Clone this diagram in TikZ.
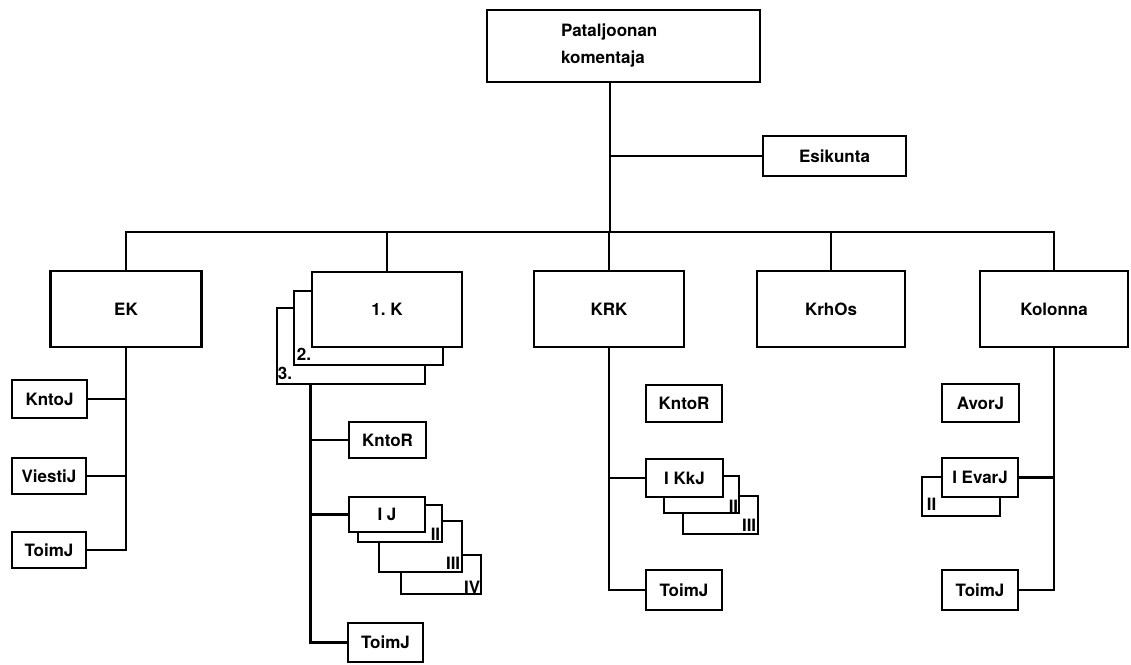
\documentclass[tikz,border=0pt]{standalone}
\usepackage{fontspec}
\setmainfont{TeX Gyre Heros}
\begin{document}
\begin{tikzpicture}[x=1pt,y=-1pt,
  box/.style={draw, line width=2.8pt, fill=white, inner sep=0pt,
    font=\bfseries\fontsize{17}{27}\selectfont, align=center},
  sbox/.style={box, minimum width=76pt, minimum height=37pt},
  conn/.style={line width=2.8pt},
  lab/.style={inner sep=0pt, font=\bfseries\fontsize{17}{20}\selectfont}]
\useasboundingbox (0,0) rectangle (1131,664);

% top level
\node[box, minimum width=273pt, minimum height=72pt, text width=125pt,
      align=left, inner xsep=74pt] (top) at (623.5,46) {Pataljoonan\\komentaja};
\node[box, minimum width=143pt, minimum height=40pt] (esik) at (834.5,156) {Esikunta};
\coordinate (trunk) at ([xshift=-13.5pt]top.south);
\coordinate (bus) at (610,232);

% second level
\node[box, minimum width=151pt, minimum height=76pt] (EK) at (126,309) {EK};
\node[box, minimum width=148pt, minimum height=76pt] (K3) at (351,346) {};
\node[lab, anchor=south west] (l3) at ([xshift=2pt,yshift=6pt]K3.south west) {3.};
\node[box, minimum width=149pt, minimum height=74pt] (K2) at (368.5,328) {};
\node[lab, anchor=south west] (l2) at ([xshift=4pt,yshift=6pt]K2.south west) {2.};
\node[box, minimum width=150pt, minimum height=75pt] (K1) at (387,309.5) {1.\ K};
\node[box, minimum width=150pt, minimum height=76pt] (KRK) at (609,309) {KRK};
\node[box, minimum width=148pt, minimum height=76pt] (KrhOs) at (831,309) {KrhOs};
\node[box, minimum width=148pt, minimum height=76pt] (Kol) at (1054,309) {Kolonna};

% EK column
\node[sbox, minimum width=75pt, minimum height=38pt] (KntoJ) at (49.5,399) {KntoJ};
\node[sbox, minimum width=74pt, minimum height=36pt] (ViestiJ) at (49,476) {ViestiJ};
\node[sbox, minimum width=74pt, minimum height=36pt] (ToimE) at (49,550) {ToimJ};

% 1. K column
\coordinate (ktrunk) at ([xshift=35pt]K3.south west);
\node[sbox, minimum width=77pt, minimum height=36pt] (KntoRK) at (387.5,440) {KntoR};
\node[box, minimum width=80pt, minimum height=39pt] (IJ4) at (441,574.5) {};
\node[lab, anchor=south east] (lIV) at ([xshift=-2pt,yshift=2pt]IJ4.south east) {IV};
\node[box, minimum width=83pt, minimum height=51pt] (IJ3) at (420.5,546.5) {};
\node[lab, anchor=south east] (lIII) at ([xshift=-3pt,yshift=4pt]IJ3.south east) {III};
\node[box, minimum width=84pt, minimum height=37pt] (IJ2) at (400,523.5) {};
\node[lab, anchor=south east] (lII) at ([xshift=-3pt,yshift=3pt]IJ2.south east) {II};
\node[sbox, minimum width=76pt, minimum height=35pt] (IJ) at (387,514.5) {I J};
\node[sbox, minimum width=75pt, minimum height=39pt] (ToimK) at (385.5,642.5) {ToimJ};

% KRK column
\node[sbox, minimum width=76pt, minimum height=37pt] (KntoRR) at (684,403.5) {KntoR};
\node[box, minimum width=75pt, minimum height=38pt] (KkJ3) at (720.5,515) {};
\node[lab, anchor=south east] (kIII) at ([xshift=-3pt,yshift=4pt]KkJ3.south east) {III};
\node[box, minimum width=75pt, minimum height=37pt] (KkJ2) at (701.5,494.5) {};
\node[lab, anchor=south east] (kII) at ([xshift=-2pt,yshift=2pt]KkJ2.south east) {II};
\node[sbox, minimum width=77pt, minimum height=38pt] (KkJ) at (684.5,478) {I KkJ};
\node[sbox, minimum width=76pt, minimum height=40pt] (ToimR) at (684,590) {ToimJ};

% Kolonna column
\node[sbox, minimum width=77pt, minimum height=38pt] (AvorJ) at (980.5,403) {AvorJ};
\node[box, minimum width=78pt, minimum height=39pt] (Evar2) at (961,496.5) {};
\node[lab, anchor=south west] (eII) at ([xshift=6pt,yshift=7pt]Evar2.south west) {II};
\node[sbox, minimum width=76pt, minimum height=39pt] (Evar) at (980,477.5) {I EvarJ};
\node[sbox, minimum width=76pt, minimum height=40pt] (ToimKo) at (980,590) {ToimJ};

% connectors
\draw[conn] (trunk) -- (trunk |- bus);
\draw[conn] (esik.west) -- (esik.west -| trunk);
\draw[conn] (EK.north) -- (EK.north |- bus) -- (Kol.north |- bus) -- (Kol.north);
\draw[conn] (K1.north) -- (K1.north |- bus);
\draw[conn] (KRK.north) -- (KRK.north |- bus);
\draw[conn] (KrhOs.north) -- (KrhOs.north |- bus);

\draw[conn] (EK.south) |- (ToimE.east);
\draw[conn] (KntoJ.east) -- (KntoJ.east -| EK.south);
\draw[conn] (ViestiJ.east) -- (ViestiJ.east -| EK.south);

\draw[conn] (ktrunk) |- (ToimK.west);
\draw[conn] (KntoRK.west) -- (KntoRK.west -| ktrunk);
\draw[conn] (IJ.west) -- (IJ.west -| ktrunk);

\draw[conn] (KRK.south) |- (ToimR.west);
\draw[conn] (KkJ.west) -- (KkJ.west -| KRK.south);

\draw[conn] (Kol.south) |- (ToimKo.east);
\draw[conn] (Evar.east) -- (Evar.east -| Kol.south);
\end{tikzpicture}
\end{document}
